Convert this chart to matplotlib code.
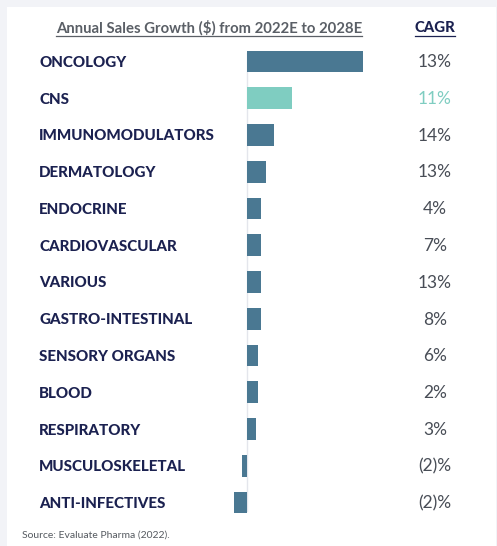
import matplotlib.pyplot as plt
from matplotlib.patches import Rectangle
from matplotlib.transforms import blended_transform_factory

# Daten
categories = ['ONCOLOGY', 'CNS', 'IMMUNOMODULATORS', 'DERMATOLOGY', 'ENDOCRINE',
              'CARDIOVASCULAR', 'VARIOUS', 'GASTRO-INTESTINAL', 'SENSORY ORGANS',
              'BLOOD', 'RESPIRATORY', 'MUSCULOSKELETAL', 'ANTI-INFECTIVES']
growth = [116, 45, 27, 19, 14, 14, 13.5, 13.5, 10.5, 11, 8.5, -5.5, -13]
cagr = ['13%', '11%', '14%', '13%', '4%', '7%', '13%', '8%', '6%', '2%', '3%', '(2)%', '(2)%']
highlight = 'CNS'

W, H = 497, 546
navy = '#1b2150'
blue = '#4a7892'
teal = '#7fcdc1'
grey = '#484d56'
plt.rcParams['font.family'] = ['Lato', 'DejaVu Sans']

fig = plt.figure(figsize=(W / 100, H / 100), dpi=100, facecolor='#f2f3f7')
# weisse Karte
fig.patches.append(Rectangle((7 / W, 0), 489 / W, 1 - 7 / H, transform=fig.transFigure,
                             facecolor='white', edgecolor='none', zorder=-5))

# Achse fuer die Balken (Pixelposition -> Figurkoordinaten)
x0, x1, y_top, y_bot = 220, 380, 43, 521
ax = fig.add_axes([x0 / W, 1 - y_bot / H, (x1 - x0) / W, (y_bot - y_top) / H])
ax.set_xlim(-27, 133)
ax.set_ylim(len(categories) - 0.5, -0.5)
ax.axis('off')

ypos = list(range(len(categories)))
colors = [teal if c == highlight else blue for c in categories]
ax.barh(ypos, growth, height=0.59, color=colors, zorder=2)
ax.axvline(0, ymin=0.02, ymax=0.98, color='#e4e6ec', lw=1, zorder=1)

tr = blended_transform_factory(fig.transFigure, ax.transData)
for y, cat, val in zip(ypos, categories, cagr):
    ax.text(39 / W, y + 0.04, cat, transform=tr, ha='left', va='center', clip_on=False,
            fontsize=10.9, fontweight='black', color=navy)
    ax.text(435 / W, y + 0.02, val, transform=tr, ha='center', va='center', clip_on=False,
            fontsize=12.5, color=teal if cat == highlight else grey)

# Kopfzeilen mit Unterstreichung
t1 = fig.text(209 / W, 1 - 28 / H, 'Annual Sales Growth ($) from 2022E to 2028E',
              ha='center', va='center', fontsize=10.7, fontweight='bold', color='#5a5f66')
t2 = fig.text(435 / W, 1 - 28 / H, 'CAGR', ha='center', va='center',
              fontsize=10.7, fontweight='black', color=navy)
fig.canvas.draw()
r = fig.canvas.get_renderer()
for t, c in [(t1, '#5a5f66'), (t2, navy)]:
    bb = t.get_window_extent(r).transformed(fig.transFigure.inverted())
    fig.add_artist(plt.Line2D([bb.x0, bb.x1], [1 - 36 / H] * 2, color=c, lw=0.9,
                              transform=fig.transFigure))

fig.text(22 / W, 1 - 535 / H, 'Source: Evaluate Pharma (2022).', ha='left', va='center',
         fontsize=7.5, color='#555a60')

fig.savefig('out.png', dpi=100, facecolor=fig.get_facecolor())
